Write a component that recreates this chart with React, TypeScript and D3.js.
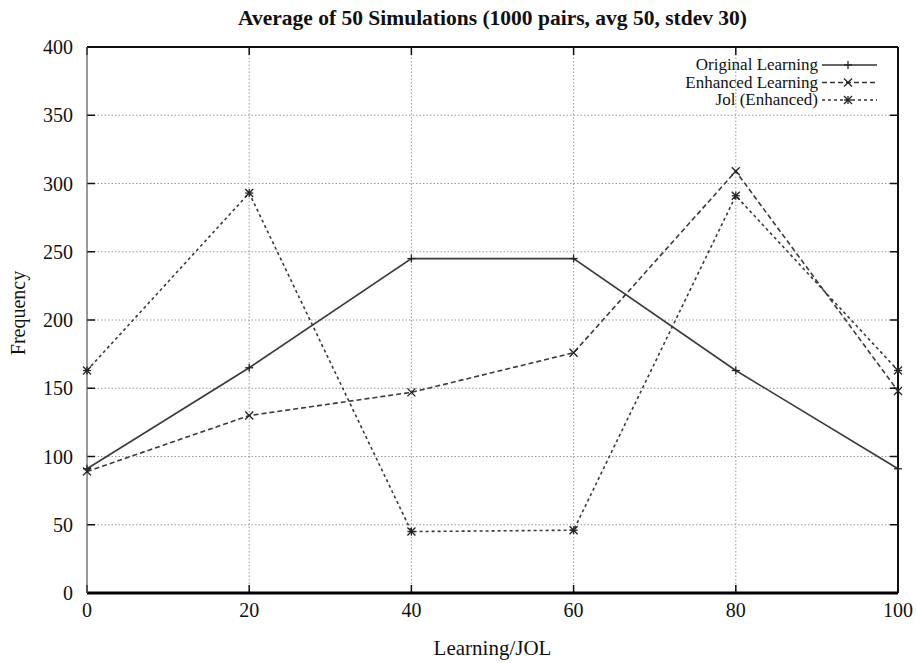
import React, { useEffect, useRef } from "react";
import * as d3 from "d3";

const xValues = [0, 20, 40, 60, 80, 100];
const originalLearning = [91, 165, 245, 245, 163, 91];
const enhancedLearning = [89, 130, 147, 176, 309, 148];
const jolEnhanced = [163, 293, 45, 46, 291, 163];
const xTicks = [0, 20, 40, 60, 80, 100];
const yTicks = [0, 50, 100, 150, 200, 250, 300, 350, 400];

const App: React.FC = () => {
  const svgRef = useRef<SVGSVGElement | null>(null);
  const width = 916;
  const height = 663;

  useEffect(() => {
    const margin = { top: 47, right: 18, bottom: 70, left: 87 };
    const innerWidth = width - margin.left - margin.right;
    const innerHeight = height - margin.top - margin.bottom;
    const font = "'Liberation Serif', 'Times New Roman', serif";

    d3.select(svgRef.current).selectAll("*").remove();
    const svg = d3.select(svgRef.current);

    const g = svg
      .append("g")
      .attr("transform", `translate(${margin.left},${margin.top})`);

    const x = d3.scaleLinear().domain([0, 100]).range([0, innerWidth]);
    const y = d3.scaleLinear().domain([0, 400]).range([innerHeight, 0]);

    // grid
    yTicks.slice(1, -1).forEach((t) => {
      g.append("line")
        .attr("x1", 0)
        .attr("x2", innerWidth)
        .attr("y1", y(t))
        .attr("y2", y(t))
        .attr("stroke", "#999")
        .attr("stroke-width", 1)
        .attr("stroke-dasharray", "1.5,2");
    });
    xTicks.slice(1, -1).forEach((t) => {
      g.append("line")
        .attr("x1", x(t))
        .attr("x2", x(t))
        .attr("y1", 0)
        .attr("y2", innerHeight)
        .attr("stroke", "#999")
        .attr("stroke-width", 1)
        .attr("stroke-dasharray", "1.5,2");
    });

    // tick marks (inside, on all sides)
    yTicks.forEach((t) => {
      g.append("line").attr("x1", 0).attr("x2", 8).attr("y1", y(t)).attr("y2", y(t)).attr("stroke", "#111").attr("stroke-width", 1.5);
      g.append("line").attr("x1", innerWidth).attr("x2", innerWidth - 8).attr("y1", y(t)).attr("y2", y(t)).attr("stroke", "#111").attr("stroke-width", 1.5);
    });
    xTicks.forEach((t) => {
      g.append("line").attr("x1", x(t)).attr("x2", x(t)).attr("y1", innerHeight).attr("y2", innerHeight - 8).attr("stroke", "#111").attr("stroke-width", 1.5);
      g.append("line").attr("x1", x(t)).attr("x2", x(t)).attr("y1", 0).attr("y2", 8).attr("stroke", "#111").attr("stroke-width", 1.5);
    });

    // frame
    g.append("line").attr("x1", 0).attr("x2", innerWidth).attr("y1", 0).attr("y2", 0).attr("stroke", "#111").attr("stroke-width", 2);
    g.append("line").attr("x1", 0).attr("x2", innerWidth).attr("y1", innerHeight).attr("y2", innerHeight).attr("stroke", "#000").attr("stroke-width", 3);
    g.append("line").attr("x1", 0).attr("x2", 0).attr("y1", 0).attr("y2", innerHeight).attr("stroke", "#555").attr("stroke-width", 1.2);
    g.append("line").attr("x1", innerWidth).attr("x2", innerWidth).attr("y1", 0).attr("y2", innerHeight).attr("stroke", "#111").attr("stroke-width", 2);

    // tick labels
    yTicks.forEach((t) => {
      g.append("text")
        .attr("x", -14)
        .attr("y", y(t))
        .attr("dy", "0.35em")
        .attr("text-anchor", "end")
        .attr("font-family", font)
        .attr("font-size", 20)
        .attr("fill", "#111")
        .text(t);
    });
    xTicks.forEach((t) => {
      g.append("text")
        .attr("x", x(t))
        .attr("y", innerHeight + 24)
        .attr("text-anchor", "middle")
        .attr("font-family", font)
        .attr("font-size", 20)
        .attr("fill", "#111")
        .text(t);
    });

    // labels
    svg.append("text")
      .attr("x", margin.left + innerWidth / 2)
      .attr("y", 25)
      .attr("text-anchor", "middle")
      .attr("font-family", font)
      .attr("font-weight", "bold")
      .attr("font-size", 21.5)
      .attr("fill", "#111")
      .text("Average of 50 Simulations (1000 pairs, avg 50, stdev 30)");

    svg.append("text")
      .attr("x", margin.left + innerWidth / 2)
      .attr("y", 655)
      .attr("text-anchor", "middle")
      .attr("font-family", font)
      .attr("font-size", 21)
      .attr("fill", "#111")
      .text("Learning/JOL");

    svg.append("text")
      .attr("transform", `translate(25,${margin.top + innerHeight / 2 - 7}) rotate(-90)`)
      .attr("text-anchor", "middle")
      .attr("font-family", font)
      .attr("font-size", 20)
      .attr("fill", "#111")
      .text("Frequency");

    const series = [
      { label: "Original Learning", values: originalLearning, dash: null, marker: "plus" },
      { label: "Enhanced Learning", values: enhancedLearning, dash: "5,3", marker: "cross" },
      { label: "Jol (Enhanced)", values: jolEnhanced, dash: "3,3", marker: "star" },
    ];

    const drawMarker = (sel: any, cx: number, cy: number, kind: string) => {
      const s = 4;
      const seg = (x1: number, y1: number, x2: number, y2: number) =>
        sel.append("line")
          .attr("x1", cx + x1).attr("y1", cy + y1)
          .attr("x2", cx + x2).attr("y2", cy + y2)
          .attr("stroke", "#222").attr("stroke-width", 1.3);
      if (kind === "plus" || kind === "star") {
        seg(-s, 0, s, 0);
        seg(0, -s, 0, s);
      }
      if (kind === "cross" || kind === "star") {
        seg(-s, -s, s, s);
        seg(-s, s, s, -s);
      }
    };

    const line = d3
      .line<number>()
      .x((_, i) => x(xValues[i]))
      .y((d) => y(d));

    series.forEach((s) => {
      g.append("path")
        .datum(s.values)
        .attr("fill", "none")
        .attr("stroke", "#3a3a3a")
        .attr("stroke-width", 1.6)
        .attr("stroke-dasharray", s.dash)
        .attr("d", line);
      s.values.forEach((v, i) => drawMarker(g, x(xValues[i]), y(v), s.marker));
    });

    // legend
    const legend = svg.append("g").attr("transform", "translate(818,70)");
    series.forEach((s, i) => {
      const row = legend.append("g").attr("transform", `translate(0,${i * 17.5})`);
      row.append("text")
        .attr("x", 0)
        .attr("y", 0)
        .attr("text-anchor", "end")
        .attr("font-family", font)
        .attr("font-size", 17)
        .attr("fill", "#111")
        .text(s.label);
      row.append("line")
        .attr("x1", 4).attr("x2", 59).attr("y1", -5).attr("y2", -5)
        .attr("stroke", "#333").attr("stroke-width", 1.4)
        .attr("stroke-dasharray", s.dash);
      drawMarker(row, 30, -5, s.marker);
    });
  }, []);

  return (
    <svg
      ref={svgRef}
      width={width}
      height={height}
      style={{ position: "absolute", left: 0, top: 0, display: "block" }}
    ></svg>
  );
};

export default App;
